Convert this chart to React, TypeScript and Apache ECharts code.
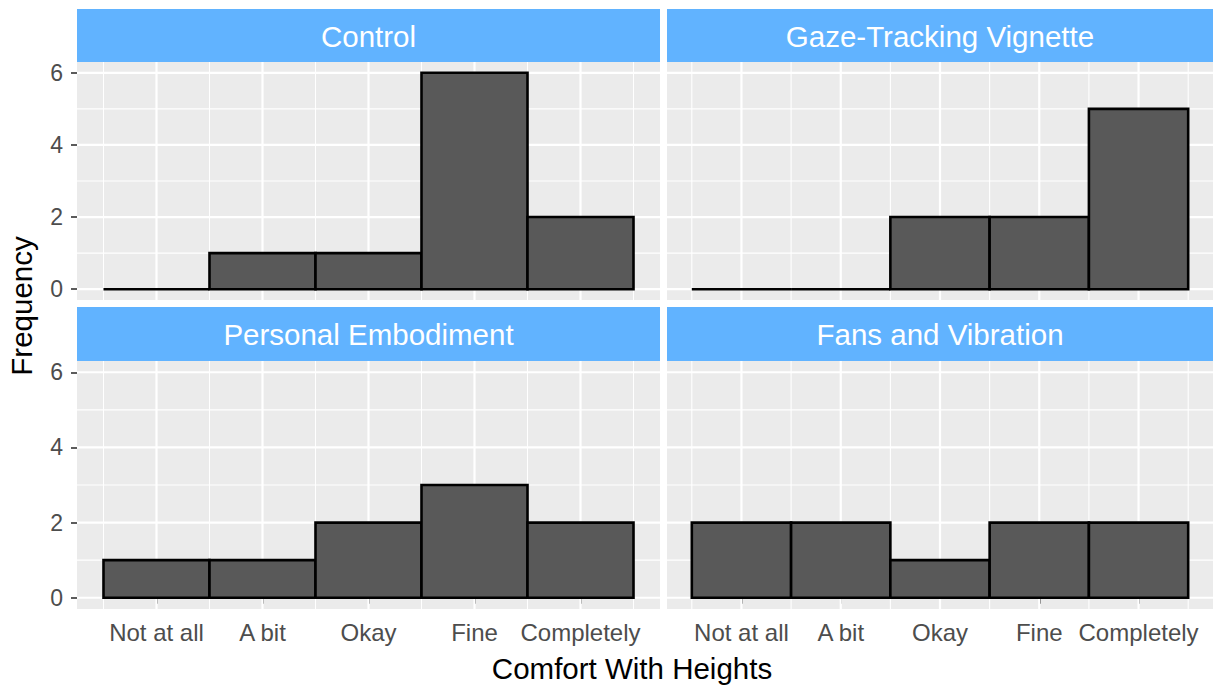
import React, { useEffect, useRef } from "react";
import * as echarts from "echarts";

const categories = ["Not at all", "A bit", "Okay", "Fine", "Completely"];
const panelTitles = ["Control", "Gaze-Tracking Vignette", "Personal Embodiment", "Fans and Vibration"];
const controlCounts = [0, 1, 1, 6, 2];
const gazeCounts = [0, 0, 2, 2, 5];
const personalCounts = [1, 1, 2, 3, 2];
const fansCounts = [2, 2, 1, 2, 2];
const yTicks = [0, 2, 4, 6];
const yMinor = [1, 3, 5];
const xTicks = [1, 2, 3, 4, 5];
const xMinor = [0.5, 1.5, 2.5, 3.5, 4.5, 5.5];

const FONT = "'Liberation Sans', Arial, Helvetica, sans-serif";

export default function App() {
  const ref = useRef<HTMLDivElement>(null);
  useEffect(() => {
    if (!ref.current) return;
    const chart = echarts.init(ref.current, null, { renderer: "svg" });
    const allCounts = [controlCounts, gazeCounts, personalCounts, fansCounts];
    const grids = [
      { left: 77, top: 62, width: 583, height: 238 },
      { left: 667, top: 62, width: 546, height: 238 },
      { left: 77, top: 361, width: 583, height: 248 },
      { left: 667, top: 361, width: 546, height: 248 },
    ];
    const xAxes: any[] = [];
    const yAxes: any[] = [];
    const series: any[] = [];
    const graphics: any[] = [];

    grids.forEach((g, i) => {
      const bottom = i >= 2;
      const left = i % 2 === 0;
      xAxes.push({
        type: "value",
        gridIndex: i,
        min: 0.25,
        max: 5.75,
        axisLine: { show: false },
        splitLine: { show: false },
        axisTick: {
          show: bottom,
          customValues: xTicks,
          length: 6,
          lineStyle: { color: "#333333", width: 1.6 },
        },
        axisLabel: {
          show: bottom,
          customValues: xTicks,
          formatter: (v: number) => categories[Math.round(v) - 1] ?? "",
          color: "#4D4D4D",
          fontSize: 24,
          fontFamily: FONT,
          margin: 11,
        },
      });
      yAxes.push({
        type: "value",
        gridIndex: i,
        min: -0.3,
        max: 6.3,
        axisLine: { show: false },
        splitLine: { show: false },
        axisTick: {
          show: left,
          customValues: yTicks,
          length: 6,
          lineStyle: { color: "#333333", width: 1.6 },
        },
        axisLabel: {
          show: left,
          customValues: yTicks,
          formatter: (v: number) => String(v),
          color: "#4D4D4D",
          fontSize: 23,
          fontFamily: FONT,
          margin: 14,
        },
      });

      const lineSeries = (vals: number[], vertical: boolean, width: number) => ({
        type: "custom",
        xAxisIndex: i,
        yAxisIndex: i,
        z: 1,
        silent: true,
        clip: true,
        data: vals.map((v) => [v]),
        renderItem: (params: any, api: any) => {
          const cs = params.coordSys;
          const v = api.value(0);
          if (vertical) {
            const p = api.coord([v, 0]);
            return {
              type: "line",
              shape: { x1: p[0], y1: cs.y, x2: p[0], y2: cs.y + cs.height },
              style: { stroke: "#FFFFFF", lineWidth: width },
            };
          }
          const p = api.coord([1, v]);
          return {
            type: "line",
            shape: { x1: cs.x, y1: p[1], x2: cs.x + cs.width, y2: p[1] },
            style: { stroke: "#FFFFFF", lineWidth: width },
          };
        },
      });
      series.push(lineSeries(xMinor, true, 1.1));
      series.push(lineSeries(yMinor, false, 1.1));
      series.push(lineSeries(xTicks, true, 2.2));
      series.push(lineSeries(yTicks, false, 2.2));

      series.push({
        type: "custom",
        xAxisIndex: i,
        yAxisIndex: i,
        z: 3,
        data: allCounts[i].map((c, k) => [k + 1, c]),
        renderItem: (_params: any, api: any) => {
          const x = api.value(0);
          const y = api.value(1);
          const p0 = api.coord([x - 0.5, 0]);
          const p1 = api.coord([x + 0.5, y]);
          if (y === 0) {
            return {
              type: "line",
              shape: { x1: p0[0], y1: p0[1], x2: p1[0], y2: p0[1] },
              style: { stroke: "#000000", lineWidth: 2.6 },
            };
          }
          return {
            type: "rect",
            shape: { x: p0[0], y: p1[1], width: p1[0] - p0[0], height: p0[1] - p1[1] },
            style: { fill: "#595959", stroke: "#000000", lineWidth: 2.6 },
          };
        },
      });

      const stripTop = bottom ? 307 : 9;
      const stripH = g.top - stripTop;
      graphics.push({
        type: "rect",
        shape: { x: g.left, y: stripTop, width: g.width, height: stripH },
        style: { fill: "#61B3FF" },
        silent: true,
      });
      graphics.push({
        type: "text",
        x: g.left + g.width / 2,
        y: stripTop + stripH / 2 + 0.5,
        style: {
          text: panelTitles[i],
          fill: "#FFFFFF",
          font: `29.5px ${FONT}`,
          align: "center",
          verticalAlign: "middle",
        },
        silent: true,
      });
    });

    graphics.push({
      type: "text",
      x: 632,
      y: 668,
      style: {
        text: "Comfort With Heights",
        fill: "#000000",
        font: `29.5px ${FONT}`,
        align: "center",
        verticalAlign: "middle",
      },
      silent: true,
    });
    graphics.push({
      type: "text",
      x: 21,
      y: 306,
      rotation: Math.PI / 2,
      style: {
        text: "Frequency",
        fill: "#000000",
        font: `29.5px ${FONT}`,
        align: "center",
        verticalAlign: "middle",
      },
      silent: true,
    });

    chart.setOption({
      animation: false,
      backgroundColor: "#FFFFFF",
      grid: grids.map((g) => ({
        ...g,
        show: true,
        backgroundColor: "#EBEBEB",
        borderWidth: 0,
        containLabel: false,
      })),
      xAxis: xAxes,
      yAxis: yAxes,
      series,
      graphic: graphics,
    });
    return () => chart.dispose();
  }, []);
  return (
    <div
      ref={ref}
      style={{ position: "absolute", left: 0, top: 0, width: 1213, height: 687 }}
    />
  );
}
